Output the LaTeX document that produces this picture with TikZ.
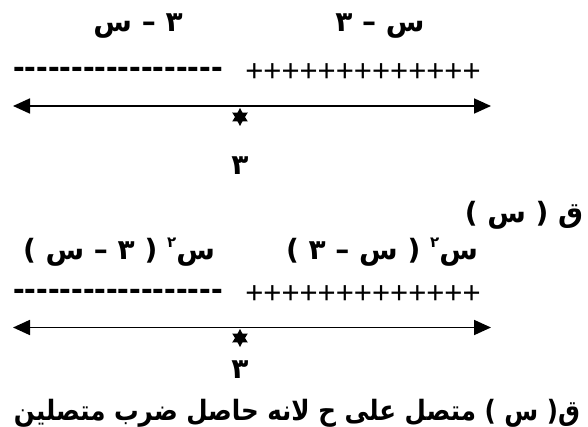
\documentclass[tikz,border=0pt]{standalone}
\usepackage{fontspec}
\setmainfont{Liberation Sans}
\newfontfamily\signfont{Liberation Sans}
\newfontfamily\arabicfont[Script=Arabic]{DejaVu Sans}
\usetikzlibrary{shapes.geometric, positioning, arrows.meta}
\TeXXeTstate=1

\newcommand{\sqr}{\raisebox{0.45em}{\fontsize{15}{15}\selectfont ٢}}

\begin{document}
\begin{tikzpicture}[
        x=1pt, y=-1pt,
        node distance=6pt,
        lbl/.style={font=\arabicfont\bfseries\fontsize{28}{30}\selectfont, inner sep=0pt},
        minusrow/.style={font=\signfont\bfseries\fontsize{35}{36}\selectfont, inner sep=0pt},
        plusrow/.style={font=\signfont\fontsize{31}{32}\selectfont, inner sep=0pt},
        rootstar/.style={star, star points=6, star point ratio=1.8, fill, minimum size=18pt, inner sep=0pt},
        numline/.style={{Triangle[length=17pt,width=15pt]}-{Triangle[length=17pt,width=15pt]}, line width=1.8pt}
    ]
    \useasboundingbox (0,0) rectangle (588,427);

    % First line: sign of the bracket
    \node[lbl] (negA) at (138,26) {\beginR ٣ – س\endR};
    \node[lbl] (posA) at (380,26) {\beginR س – ٣\endR};
    \node[minusrow] (minusA) at (118,73) {------------------};
    \node[plusrow] (plusA) at (363,73) {+++++++++++++};
    \coordinate (leftA) at (13,106);
    \coordinate (rightA) at (491,106);
    \node[rootstar] (starA) at (240,117) {};
    \node[lbl] (rootA) at (240,166) {٣};

    \node[lbl] (func) at (524,215) {\beginR ق ( س )\endR};

    % Second line: sign of the function
    \node[lbl] (negB) at (119,252) {\beginR س\sqr\ ( ٣ – س )\endR};
    \node[lbl] (posB) at (382,252) {\beginR س\sqr\ ( س – ٣ )\endR};
    \node[minusrow] (minusB) at (118,295) {------------------};
    \node[plusrow] (plusB) at (363,295) {+++++++++++++};
    \coordinate (leftB) at (13,327.5);
    \coordinate (rightB) at (491,327.5);
    \node[rootstar] (starB) at (240,338) {};
    \node[lbl] (rootB) at (240,370) {٣};

    \node[lbl] (note) at (297,413) {\resizebox{566pt}{\height}{\beginR ق( س ) متصل على ح لانه حاصل ضرب متصلين\endR}};

    % Arrows
    \draw[numline] (leftA) -- (rightA);
    \draw[numline] (leftB) -- (rightB);

\end{tikzpicture}
\end{document}
